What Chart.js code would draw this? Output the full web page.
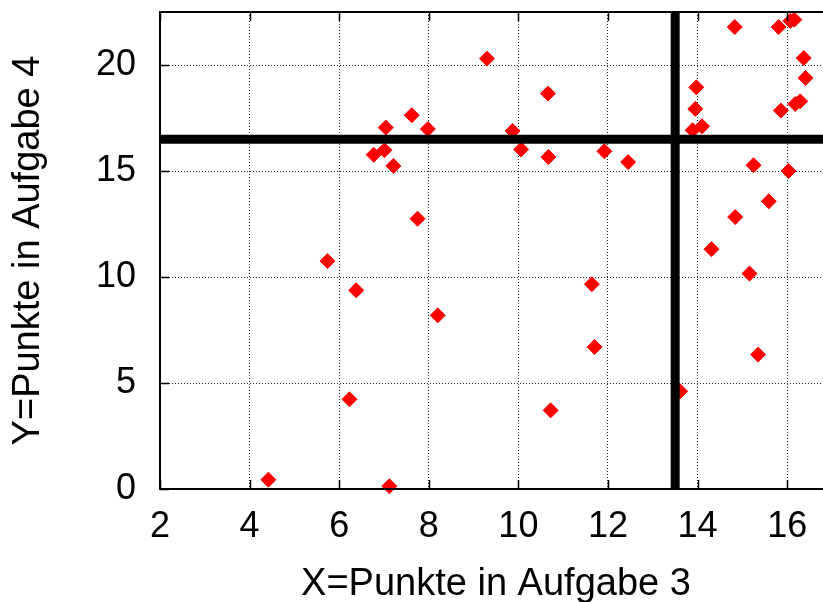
<!DOCTYPE html>
<html>
<head>
<meta charset="utf-8">
<script src="https://cdn.jsdelivr.net/npm/chart.js@4.4.1/dist/chart.umd.min.js"></script>
<style>
  html, body { margin: 0; padding: 0; overflow: hidden; background: #fff; }
  canvas { display: block; }
</style>
</head>
<body>
<canvas id="c" width="823" height="602"></canvas>
<script>
// Scores: X = points in task 3, Y = points in task 4
const xPoints = [9.30, 7.62, 7.04, 7.98, 6.77, 7.01, 7.21, 7.75, 5.74, 6.38, 8.20, 6.23, 4.42, 7.12,
  10.66, 9.87, 10.06, 10.67, 11.92, 12.45, 13.97, 13.95, 13.89, 14.10, 14.83, 15.81, 16.07, 16.16,
  16.37, 16.41, 15.86, 16.18, 16.29, 15.25, 16.03, 15.59, 14.84, 14.31, 11.64, 11.70, 10.72, 13.61,
  15.16, 15.35];
const yPoints = [20.30, 17.63, 17.05, 16.98, 15.77, 15.98, 15.24, 12.75, 10.75, 9.37, 8.19, 4.23, 0.44, 0.13,
  18.65, 16.89, 16.02, 15.66, 15.93, 15.42, 18.95, 17.93, 16.92, 17.11, 21.79, 21.79, 22.08, 22.14,
  20.33, 19.39, 17.85, 18.16, 18.29, 15.27, 15.00, 13.57, 12.83, 11.31, 9.66, 6.70, 3.71, 4.61,
  10.16, 6.34];
// Threshold lines (means)
const xThreshold = 13.5;
const yThreshold = 16.5;
// Axis ranges (the plot is cut off at the right edge) and tick labels
const xRange = [2, 16.8];
const xFullMax = 17;
const yRange = [0, 22.5];
const xTickValues = [2, 4, 6, 8, 10, 12, 14, 16];
const yTickValues = [0, 5, 10, 15, 20];
const xTitle = 'X=Punkte in Aufgabe 3';
const yTitle = 'Y=Punkte in Aufgabe 4';

const FONT = '"Liberation Sans", Arial, Helvetica, sans-serif';
const scatterData = xPoints.map((x, i) => ({ x: x, y: yPoints[i] }));

const framePlugin = {
  id: 'frame',
  afterDatasetsDraw(chart) {
    const { ctx, chartArea: a, scales } = chart;
    ctx.save();
    ctx.strokeStyle = '#000';
    ctx.lineWidth = 1.5;
    const tl = 9;
    ctx.beginPath();
    xTickValues.forEach(v => {
      const px = Math.round(scales.x.getPixelForValue(v)) + 0.5;
      ctx.moveTo(px, a.bottom); ctx.lineTo(px, a.bottom - tl);
      ctx.moveTo(px, a.top); ctx.lineTo(px, a.top + tl);
    });
    yTickValues.forEach(v => {
      const py = Math.round(scales.y.getPixelForValue(v)) + 0.5;
      ctx.moveTo(a.left, py); ctx.lineTo(a.left + tl, py);
    });
    ctx.stroke();
    ctx.lineWidth = 2;
    ctx.beginPath();
    ctx.moveTo(a.right + 2, a.top); ctx.lineTo(a.left, a.top);
    ctx.lineTo(a.left, a.bottom); ctx.lineTo(a.right + 2, a.bottom);
    ctx.stroke();
    // x axis title, centred on the full (uncut) x range
    const cx = (scales.x.getPixelForValue(xRange[0]) + scales.x.getPixelForValue(xFullMax)) / 2;
    ctx.fillStyle = '#000';
    ctx.font = '38px ' + FONT;
    ctx.textAlign = 'center';
    ctx.textBaseline = 'alphabetic';
    ctx.fillText(xTitle, cx, 595);
    ctx.restore();
  }
};

new Chart(document.getElementById('c'), {
  type: 'scatter',
  data: {
    datasets: [
      {
        type: 'line',
        data: [{ x: xThreshold, y: yRange[0] }, { x: xThreshold, y: yRange[1] }],
        borderColor: '#000', borderWidth: 9, pointRadius: 0, showLine: true, fill: false
      },
      {
        type: 'line',
        data: [{ x: xRange[0], y: yThreshold }, { x: xRange[1], y: yThreshold }],
        borderColor: '#000', borderWidth: 9, pointRadius: 0, showLine: true, fill: false
      },
      {
        data: scatterData,
        pointStyle: 'rectRot',
        pointRadius: 7.5,
        pointHoverRadius: 7.5,
        backgroundColor: '#ff0000',
        borderColor: '#ff0000',
        borderWidth: 1,
        clip: false
      }
    ]
  },
  options: {
    responsive: false,
    animation: false,
    devicePixelRatio: 1,
    layout: { autoPadding: false, padding: { left: 0, right: 0, top: 12, bottom: 0 } },
    plugins: { legend: { display: false }, tooltip: { enabled: false } },
    scales: {
      x: {
        type: 'linear',
        min: xRange[0], max: xRange[1],
        afterBuildTicks(scale) { scale.ticks = xTickValues.map(v => ({ value: v })); },
        afterFit(scale) { scale.height = 113; scale.paddingLeft = 0; scale.paddingRight = 0; },
        ticks: {
          includeBounds: false,
          color: '#000',
          padding: 20,
          maxRotation: 0,
          autoSkip: false,
          font: { family: FONT, size: 36, lineHeight: 1 }
        },
        grid: { color: '#222', lineWidth: 1, drawTicks: false },
        border: { display: false, dash: [1, 2] },
        title: { display: false }
      },
      y: {
        type: 'linear',
        min: yRange[0], max: yRange[1],
        afterBuildTicks(scale) { scale.ticks = yTickValues.map(v => ({ value: v })); },
        afterFit(scale) { scale.width = 160; scale.paddingTop = 0; scale.paddingBottom = 0; },
        ticks: {
          includeBounds: false,
          color: '#000',
          padding: 24,
          autoSkip: false,
          font: { family: FONT, size: 36, lineHeight: 1 }
        },
        grid: { color: '#222', lineWidth: 1, drawTicks: false },
        border: { display: false, dash: [1, 2] },
        title: {
          display: true, text: yTitle, color: '#000',
          font: { family: FONT, size: 38, lineHeight: 1 },
          padding: { top: 10, bottom: 0 }
        }
      }
    }
  },
  plugins: [framePlugin]
});
</script>
</body>
</html>
